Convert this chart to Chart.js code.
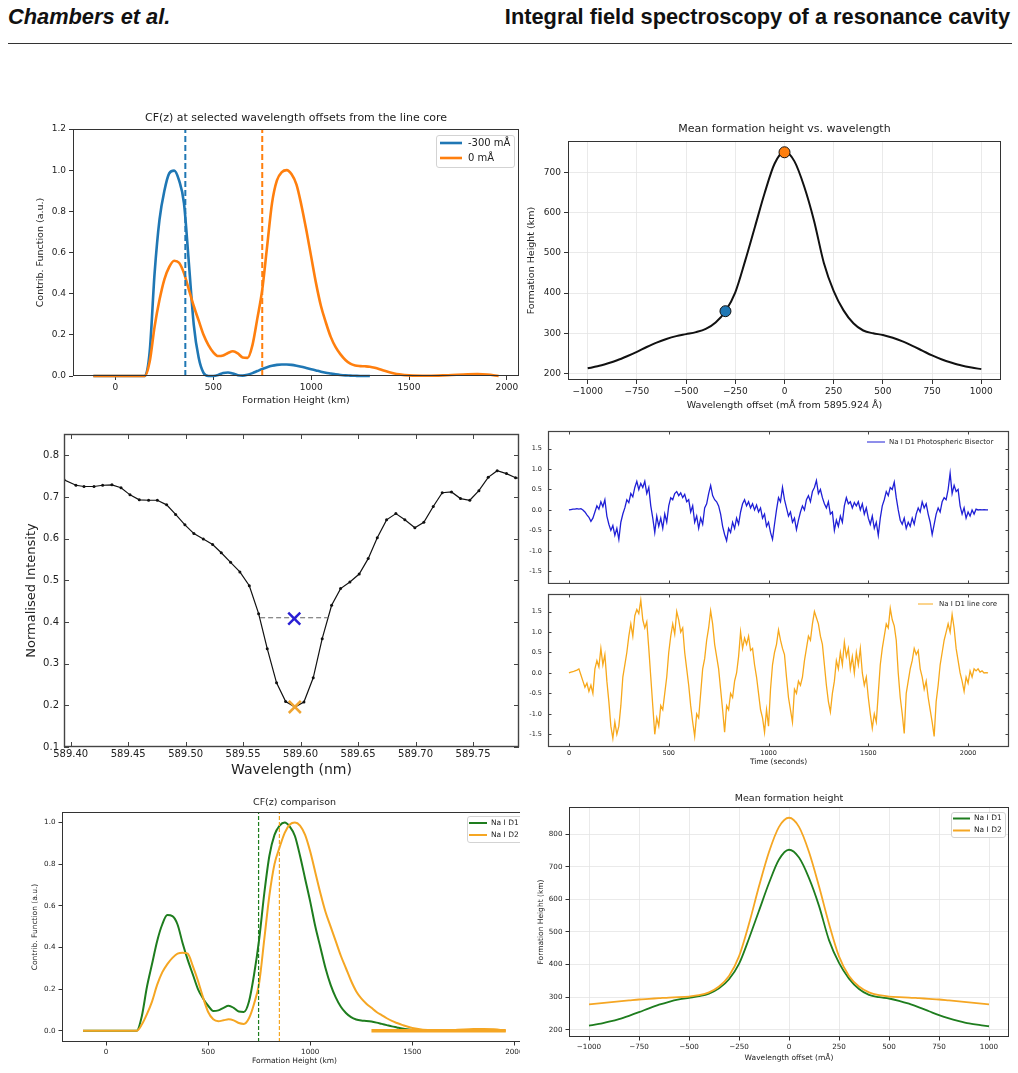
<!DOCTYPE html>
<html>
<head>
<meta charset="utf-8">
<title>Integral field spectroscopy of a resonance cavity</title>
<script src="https://cdn.jsdelivr.net/npm/chart.js@4.4.1/dist/chart.umd.min.js"></script>
<style>
  body { margin: 0; background: #fff; }
  #page { position: relative; width: 1018px; height: 1073px; overflow: hidden; background: #fff; }
  .hdr { position: absolute; top: 5px; line-height: 24px; font-family: "Liberation Sans", Arial, sans-serif; font-weight: bold; font-size: 21.8px; color: #111; white-space: nowrap; }
  #hdrLeft { left: 8px; font-style: italic; }
  #hdrRight { right: 8px; }
  #rule { position: absolute; left: 8px; width: 1004px; top: 43px; height: 1px; background: #333; }
  .panel { position: absolute; overflow: hidden; }
  .panel canvas { display: block; }
</style>
</head>
<body>
<div id="page">
  <div class="hdr" id="hdrLeft">Chambers et al.</div>
  <div class="hdr" id="hdrRight">Integral field spectroscopy of a resonance cavity</div>
  <div id="rule"></div>
  <div class="panel" id="cfPanel"><canvas></canvas></div>
  <div class="panel" id="meanPanel"><canvas></canvas></div>
  <div class="panel" id="specPanel"><canvas></canvas></div>
  <div class="panel" id="bisectorPanel"><canvas></canvas></div>
  <div class="panel" id="corePanel"><canvas></canvas></div>
  <div class="panel" id="cfCompPanel"><canvas></canvas></div>
  <div class="panel" id="meanCompPanel"><canvas></canvas></div>
</div>
<script>
// ---------- data ----------

// CF(z) height grid (km)
const cfHeight = [-113, 0, 100,
  150, 175, 200, 225, 250, 275, 300, 325, 350, 375,
  400, 425, 450, 475, 500, 525, 550, 575, 600, 625,
  650, 675, 700, 725, 750, 775, 800, 825, 850, 875,
  900, 925, 950, 975, 1000, 1025, 1050, 1075, 1100, 1125,
  1150, 1175, 1200, 1225, 1250, 1275, 1300, 1325, 1350, 1375,
  1400, 1425, 1450,
  1500, 1600, 1700, 1800, 1850, 1900, 1958];

// CF at -300 mA (blue)
const cfWing = [0, 0, 0,
  0, 0.12, 0.5, 0.76, 0.9, 0.985, 0.998, 0.95, 0.84, 0.55,
  0.25, 0.09, 0.015, 0, 0, 0.005, 0.015, 0.017, 0.012, 0.004,
  0.002, 0.006, 0.014, 0.024, 0.034, 0.043, 0.05, 0.054, 0.056, 0.056,
  0.054, 0.05, 0.045, 0.039, 0.033, 0.027, 0.021, 0.016, 0.012, 0.008,
  0.005, 0.003, 0.002, 0.001, 0, 0, 0, null, null, null,
  null, null, null,
  null, null, null, null, null, null, null];

// CF at 0 mA (orange)
const cfCore = [0, 0, 0,
  0, 0.07, 0.24, 0.37, 0.47, 0.53, 0.56, 0.55, 0.5, 0.42,
  0.34, 0.27, 0.2, 0.15, 0.115, 0.097, 0.1, 0.112, 0.12, 0.11,
  0.09, 0.088, 0.15, 0.28, 0.42, 0.63, 0.84, 0.95, 0.99, 1.0,
  0.98, 0.93, 0.83, 0.71, 0.58, 0.45, 0.34, 0.26, 0.19, 0.14,
  0.105, 0.078, 0.06, 0.051, 0.048, 0.047, 0.045, 0.04, 0.033, 0.025,
  0.018, 0.012, 0.008,
  0.003, 0.001, 0.004, 0.008, 0.009, 0.007, 0];

// CF comparison: Na I D1 and D2
const cfD1 = [0, 0, 0,
  0, 0.07, 0.21, 0.32, 0.43, 0.51, 0.555, 0.55, 0.51, 0.42,
  0.34, 0.27, 0.2, 0.155, 0.12, 0.095, 0.098, 0.11, 0.12, 0.11,
  0.092, 0.09, 0.14, 0.27, 0.44, 0.66, 0.84, 0.94, 0.985, 1.0,
  0.98, 0.935, 0.84, 0.73, 0.62, 0.5, 0.4, 0.3, 0.22, 0.16,
  0.115, 0.085, 0.065, 0.054, 0.049, 0.047, 0.044, 0.039, 0.033, 0.027,
  0.021, 0.016, 0.011,
  0.003, null, null, null, null, null, null];

const cfD2 = [0, 0, 0,
  0, 0.03, 0.08, 0.14, 0.22, 0.28, 0.32, 0.35, 0.37, 0.375,
  0.37, 0.31, 0.24, 0.16, 0.09, 0.055, 0.046, 0.05, 0.055, 0.05,
  0.037, 0.033, 0.06, 0.13, 0.23, 0.44, 0.65, 0.8, 0.88, 0.95,
  0.99, 1.0, 0.985, 0.94, 0.86, 0.76, 0.66, 0.57, 0.5, 0.43,
  0.36, 0.3, 0.24, 0.19, 0.155, 0.13, 0.11, 0.09, 0.075, 0.06,
  0.047, 0.037, 0.028,
  0.013, 0.002, 0.003, 0.008, 0.009, 0.007, 0];

const cfTailHeight = [1300, 1958];
const cfTailValue = [0, 0];

// mean formation heights (dashed lines, km)
const meanWing = 357, meanCore = 750;
const meanD1 = 747, meanD2 = 849;

// mean formation height vs wavelength offset
const offsetMa = [-1000, -950, -900, -850, -800, -750, -700, -650, -600, -550,
  -500, -450, -400, -350, -300, -250, -200, -150, -100, -50,
  0, 50, 100, 150, 200, 250, 300, 350, 400, 450,
  500, 550, 600, 650, 700, 750, 800, 850, 900, 950, 1000];
const heightD1 = [213, 218, 225, 233, 243, 254, 266, 277, 286, 293,
  298, 303, 311, 327, 355, 402, 480, 565, 650, 722,
  752, 728, 665, 580, 475, 405, 357, 325, 307, 300,
  296, 289, 280, 269, 257, 245, 235, 227, 220, 215, 211];
const heightD2 = [278, 281, 284, 287, 290, 293, 295, 297, 299, 300,
  302, 306, 315, 333, 365, 425, 525, 640, 745, 822,
  850, 822, 745, 640, 525, 425, 365, 333, 315, 306,
  302, 300, 299, 297, 295, 293, 290, 287, 284, 281, 278];
const markOffset = [-300, 0];
const markHeight = [355, 750];

// Na I D1 spectral profile
const specWave = [589.3942, 589.4046, 589.4116, 589.4203, 589.4278, 589.4359, 589.4438, 589.4516, 589.4597, 589.4678,
  589.4754, 589.4835, 589.4913, 589.4994, 589.5072, 589.5154, 589.5235, 589.5310, 589.5391, 589.5472,
  589.5554, 589.5635, 589.5710, 589.5791, 589.5870, 589.5951, 589.6029, 589.6110, 589.6188, 589.6270,
  589.6348, 589.6429, 589.6510, 589.6588, 589.6667, 589.6748, 589.6829, 589.6907, 589.6994, 589.7072,
  589.7154, 589.7232, 589.7313, 589.7391, 589.7472, 589.7551, 589.7632, 589.7710, 589.7791, 589.7870, 589.7950];
const specInt = [0.741, 0.728, 0.725, 0.725, 0.728, 0.729, 0.722, 0.705, 0.693, 0.692,
  0.692, 0.681, 0.658, 0.633, 0.612, 0.599, 0.586, 0.566, 0.543, 0.520,
  0.487, 0.420, 0.336, 0.254, 0.209, 0.196, 0.208, 0.266, 0.360, 0.440,
  0.480, 0.496, 0.515, 0.552, 0.602, 0.645, 0.660, 0.645, 0.626, 0.639,
  0.677, 0.710, 0.712, 0.696, 0.692, 0.715, 0.747, 0.763, 0.756, 0.746, 0.744];
const bisectorLevelWave = [589.5648, 589.6250];
const bisectorLevelInt = [0.41, 0.41];
const bisectorMark = {x: 589.5945, y: 0.408};
const coreMark = {x: 589.5950, y: 0.196};

// time series (10 s cadence, starting at 0 s)
const cadence = 10;
const bisectorShift = [
  0, 0.01, 0.02, 0.02, 0.03, 0.02, 0.03, 0.0, -0.05, -0.12,
  -0.18, -0.28, -0.2, -0.05, 0.1, 0.02, 0.2, 0.08, 0.25, -0.15,
  -0.35, -0.5, -0.38, -0.62, -0.45, -0.72, -0.3, -0.1, 0.05, 0.25,
  0.18, 0.4, 0.32, 0.55, 0.7, 0.5, 0.65, 0.55, 0.7, 0.4,
  0.55, 0.1, -0.2, -0.55, -0.15, -0.4, -0.2, -0.45, -0.1, -0.3,
  0.1, 0.3, 0.25, 0.4, 0.45, 0.35, 0.42, 0.3, 0.38, 0.2,
  0.25, -0.05, 0.1, -0.3, -0.15, -0.45, -0.2, -0.35, 0.05, 0.15,
  0.4, 0.6, 0.35, 0.25, 0.2, 0.1, -0.1, -0.4, -0.6, -0.75,
  -0.45, -0.55, -0.3, -0.45, -0.2, -0.35, -0.05, 0.15, 0.25, 0.1,
  0.2, 0.05, 0.15, 0.0, 0.12, -0.05, 0.05, -0.2, -0.1, -0.4,
  -0.3, -0.55, -0.72, -0.35, 0.0, 0.3, 0.2, 0.55, 0.25, 0.05,
  -0.15, -0.05, -0.3, -0.2, -0.48, -0.25, -0.05, 0.1, 0.0, 0.25,
  0.35, 0.2, 0.45, 0.55, 0.72, 0.4, 0.5, 0.3, 0.15, 0.05,
  0.2, -0.1, -0.05, -0.5, -0.25, -0.4, -0.15, -0.3, 0.1, 0.3,
  0.15, 0.2, 0.05, 0.18, 0.1, 0.2, 0.0, 0.15, -0.1, 0.05,
  -0.2, -0.35, -0.15, -0.45, -0.3, -0.62, -0.2, 0.1, 0.25, 0.45,
  0.35, 0.55, 0.5, 0.68, 0.3, 0.0, -0.25, -0.35, -0.2, -0.45,
  -0.3, -0.4, -0.2, -0.35, -0.1, 0.05, -0.05, 0.2, 0.05, 0.15,
  -0.1, -0.3, -0.6, -0.35, -0.1, 0.05, -0.05, 0.2, 0.3, 0.25,
  0.5, 0.9, 0.4, 0.6, 0.45, 0.5, 0.1, -0.1, 0.05, -0.2,
  -0.05, -0.15, 0.0, -0.1, 0.02, 0.0, 0.01, 0.0, 0.01, 0.0,
  0.0];
const coreShift = [
  0, 0.02, 0.03, 0.05, 0.07, 0.1, -0.05, -0.2, -0.35, -0.25,
  -0.45, -0.3, -0.5, 0.1, 0.3, 0.15, 0.6, 0.2, 0.45, -0.2,
  -0.7, -1.3, -1.6, -1.2, -1.5, -1.3, -0.8, -0.1, 0.2, 0.5,
  0.9, 1.2, 0.9, 1.4, 1.55, 1.45, 1.78, 1.3, 1.1, 1.25,
  0.6, -0.1, -0.8, -1.5, -1.1, -1.3, -0.8, -0.9, -0.5, -0.1,
  0.5, 0.9, 1.2, 0.95, 1.5, 1.3, 1.0, 1.1, 0.5, 0.1,
  -0.3, -0.8, -1.2, -1.55, -1.0, -1.1, -0.5, 0.1, 0.35, 0.8,
  1.1, 1.52, 1.2, 0.7, 0.4, 0.1, -0.4, -0.9, -1.45, -0.8,
  -0.9, -0.5, -0.6, -0.2, 0.0, 0.4, 1.0, 0.6, 0.85, 0.7,
  0.9, 0.55, 0.6, 0.2, -0.1, -0.5, -0.9, -1.1, -1.45, -0.9,
  -1.3, -0.4, 0.2, 0.5, 0.7, 1.05, 0.8, 0.6, 0.45, -0.1,
  -0.6, -0.9, -1.2, -0.4, -0.5, -0.2, -0.3, -0.1, 0.3, 0.6,
  0.9, 0.8, 1.2, 1.5, 1.35, 1.2, 0.9, 0.7, 0.2, -0.3,
  -0.7, -0.95, -0.5, -0.2, 0.3, 0.1, 0.5, 0.2, 0.75, 0.4,
  0.6, 0.1, 0.4, 0.0, 0.5, 0.2, 0.6, 0.0, -0.3, -0.1,
  -0.6, -1.0, -1.35, -1.0, -1.2, -0.5, 0.2, 0.6, 0.9, 1.2,
  1.1, 1.58, 1.3, 1.15, 0.8, 0.0, -0.6, -1.0, -1.48, -0.5,
  -0.2, 0.1, 0.3, 0.6, 0.45, 0.55, 0.1, -0.1, -0.4, -0.2,
  -0.6, -0.9, -1.2, -1.55, -0.7, -0.3, 0.2, 0.5, 0.8, 1.0,
  1.2, 1.0, 1.43, 1.1, 0.6, 0.3, 0.0, -0.2, -0.45, -0.1,
  -0.25, 0.05, -0.1, 0.1, 0.05, 0.1, 0.02, 0.05, 0.0, 0.01,
  0.0];

// tick values
const cfHeightTicks = [0, 500, 1000, 1500, 2000];
const cfTicks = [0, 0.2, 0.4, 0.6, 0.8, 1.0, 1.2];
const cfCompTicks = [0, 0.2, 0.4, 0.6, 0.8, 1.0];
const offsetTicks = [-1000, -750, -500, -250, 0, 250, 500, 750, 1000];
const heightTicks = [200, 300, 400, 500, 600, 700];
const heightCompTicks = [200, 300, 400, 500, 600, 700, 800];
const waveTicks = [589.40, 589.45, 589.50, 589.55, 589.60, 589.65, 589.70, 589.75];
const intensityTicks = [0.1, 0.2, 0.3, 0.4, 0.5, 0.6, 0.7, 0.8];
const timeTicks = [0, 500, 1000, 1500, 2000];
const shiftTicks = [-1.5, -1.0, -0.5, 0.0, 0.5, 1.0, 1.5];

// ---------- helpers ----------
const INK = '#222';
const TAB_BLUE = '#1f77b4', TAB_ORANGE = '#ff7f0e';
const GREEN = '#1e7d1e', GOLD = '#f5a623';
const FONT = '"DejaVu Sans", sans-serif';

Chart.defaults.font.family = FONT;
Chart.defaults.color = INK;

function pts(xs, ys) {
  return xs.map((x, i) => ({x, y: ys[i]}));
}

function timePts(ys) {
  return ys.map((v, i) => ({x: i * cadence, y: v}));
}

const fixed = n => v => v.toFixed(n);
const minusFmt = v => (v < 0 ? '\u2212' + Math.abs(v) : String(v));

function lineSet(data, color, width, extra) {
  return Object.assign({
    data, borderColor: color, backgroundColor: color, borderWidth: width,
    pointRadius: 0, fill: false, tension: 0, clip: 4, spanGaps: false
  }, extra || {});
}

function axisOptions(a, horizontal, size, edge) {
  const tfs = a.titleSize || 10;
  const lh = tfs * 1.2;
  let tpad = 0;
  if (a.title) tpad = horizontal ? edge - a.titleAt - lh / 2 : a.titleAt - edge - lh / 2;
  return {
    type: 'linear', min: a.min, max: a.max,
    afterBuildTicks: s => { s.ticks = a.ticks.map(v => ({value: v})); },
    afterFit: s => {
      // fixed axis size, and no extra room reserved for edge labels
      if (horizontal) s.height = size; else s.width = size;
      s.paddingTop = 0; s.paddingBottom = 0; s.paddingLeft = 0; s.paddingRight = 0;
    },
    ticks: {
      display: a.labels !== false, autoSkip: false, maxRotation: 0, minRotation: 0,
      padding: a.pad, font: {size: a.size}, color: INK, callback: a.fmt
    },
    grid: {
      drawOnChartArea: !!a.grid, color: '#e4e4e4', lineWidth: 0.8,
      drawTicks: !!a.tickLen, tickLength: a.tickLen || 0, tickColor: '#333', tickWidth: 1
    },
    border: {display: false},
    title: {display: !!a.title, text: a.title || '', font: {size: tfs}, color: INK, padding: Math.max(0, tpad)}
  };
}

function drawLegend(ctx, L, ox, oy) {
  const x0 = L.x - ox, y0 = L.y - oy;
  if (L.box) {
    ctx.beginPath();
    ctx.roundRect(x0 + 0.5, y0 + 0.5, L.w, L.h, 2.5);
    ctx.fillStyle = 'rgba(255,255,255,0.85)';
    ctx.fill();
    ctx.strokeStyle = '#d3d3d3';
    ctx.lineWidth = 1;
    ctx.stroke();
  }
  ctx.font = L.size + 'px ' + FONT;
  ctx.textAlign = 'left';
  ctx.textBaseline = 'middle';
  L.items.forEach((item, i) => {
    const cy = y0 + L.row0 + i * L.rowH;
    ctx.strokeStyle = item.color;
    ctx.lineWidth = item.width;
    ctx.beginPath();
    ctx.moveTo(x0 + L.lineX, cy);
    ctx.lineTo(x0 + L.lineX + L.lineLen, cy);
    ctx.stroke();
    ctx.fillStyle = INK;
    ctx.fillText(item.label, x0 + L.textX, cy);
  });
}

// frame, inward ticks, title and legend on top of the chart
function decorPlugin(p, ox, oy) {
  return {
    id: 'decor',
    afterDraw(chart) {
      const ctx = chart.ctx, a = chart.chartArea;
      ctx.save();
      if (p.inTicks) {
        const it = p.inTicks, sx = chart.scales.x, sy = chart.scales.y;
        ctx.strokeStyle = it.color;
        ctx.lineWidth = 1;
        ctx.beginPath();
        it.x.forEach(v => {
          const px = Math.round(sx.getPixelForValue(v)) + 0.5;
          ctx.moveTo(px, a.bottom); ctx.lineTo(px, a.bottom - it.len);
          ctx.moveTo(px, a.top); ctx.lineTo(px, a.top + it.len);
        });
        it.y.forEach(v => {
          const py = Math.round(sy.getPixelForValue(v)) + 0.5;
          ctx.moveTo(a.left, py); ctx.lineTo(a.left + it.len, py);
          ctx.moveTo(a.right, py); ctx.lineTo(a.right - it.len, py);
        });
        ctx.stroke();
      }
      ctx.strokeStyle = p.frameColor || '#333';
      ctx.lineWidth = p.frameWidth || 1;
      ctx.strokeRect(a.left + 0.5, a.top + 0.5, a.right - a.left - 1, a.bottom - a.top - 1);
      if (p.title) {
        ctx.fillStyle = INK;
        ctx.font = p.title.size + 'px ' + FONT;
        ctx.textAlign = 'center';
        ctx.textBaseline = 'middle';
        ctx.fillText(p.title.text, (a.left + a.right) / 2, p.title.at - oy);
      }
      if (p.legend) drawLegend(ctx, p.legend, ox, oy);
      ctx.restore();
    }
  };
}

// place a panel so that its plot area lands on page rect p.area
function makePanel(p) {
  const wrap = document.getElementById(p.id);
  const canvas = wrap.querySelector('canvas');
  const left = p.area.l - p.axW, top = p.area.t - p.padTop;
  const w = p.area.r - p.area.l + p.axW + p.padRight;
  const h = p.area.b - p.area.t + p.padTop + p.axH;
  wrap.style.left = left + 'px';
  wrap.style.top = top + 'px';
  wrap.style.width = (p.clipRight ? p.clipRight - left : w) + 'px';
  wrap.style.height = h + 'px';
  canvas.width = w;
  canvas.height = h;
  canvas.style.width = w + 'px';
  canvas.style.height = h + 'px';

  return new Chart(canvas, {
    type: 'line',
    data: {datasets: p.datasets},
    options: {
      responsive: false,
      animation: false,
      events: [],
      layout: {autoPadding: false, padding: {top: p.padTop, right: p.padRight, left: 0, bottom: 0}},
      plugins: {legend: {display: false}, title: {display: false}, tooltip: {enabled: false}},
      scales: {
        x: axisOptions(p.x, true, p.axH, top + h),
        y: axisOptions(p.y, false, p.axW, left)
      }
    },
    plugins: [decorPlugin(p, left, top)]
  });
}

// ---------- panels ----------

// CF(z) at selected wavelength offsets
makePanel({
  id: 'cfPanel', area: {l: 73, t: 129, r: 519, b: 376}, axW: 55, axH: 35, padTop: 22, padRight: 3,
  title: {text: 'CF(z) at selected wavelength offsets from the line core', size: 11, at: 118},
  x: {min: -217, max: 2062, ticks: cfHeightTicks, fmt: v => String(v), size: 9, pad: 2, tickLen: 4,
      title: 'Formation Height (km)', titleSize: 9.5, titleAt: 401},
  y: {min: 0, max: 1.2, ticks: cfTicks, fmt: fixed(1), size: 9, pad: 3, tickLen: 4,
      title: 'Contrib. Function (a.u.)', titleSize: 9.5, titleAt: 41},
  legend: {x: 436, y: 135, w: 78, h: 32, box: true, size: 10, row0: 8, rowH: 15, lineX: 4, lineLen: 22, textX: 32,
           items: [{label: '-300 mÅ', color: TAB_BLUE, width: 2.6}, {label: '0 mÅ', color: TAB_ORANGE, width: 2.6}]},
  datasets: [
    lineSet(pts([meanWing, meanWing], [0, 1.2]), TAB_BLUE, 2, {borderDash: [6, 3]}),
    lineSet(pts([meanCore, meanCore], [0, 1.2]), TAB_ORANGE, 2, {borderDash: [6, 3]}),
    lineSet(pts(cfHeight, cfCore), TAB_ORANGE, 2.6, {cubicInterpolationMode: 'monotone'}),
    lineSet(pts(cfHeight, cfWing), TAB_BLUE, 2.6, {cubicInterpolationMode: 'monotone'})
  ]
});

// Mean formation height vs wavelength
makePanel({
  id: 'meanPanel', area: {l: 568, t: 141, r: 1001, b: 380}, axW: 50, axH: 34, padTop: 22, padRight: 5,
  title: {text: 'Mean formation height vs. wavelength', size: 11, at: 129},
  x: {min: -1100, max: 1100, ticks: offsetTicks, fmt: minusFmt, size: 9, pad: 2, tickLen: 4, grid: true,
      title: 'Wavelength offset (mÅ from 5895.924 Å)', titleSize: 9.5, titleAt: 406},
  y: {min: 184, max: 778, ticks: heightTicks, fmt: v => String(v), size: 9, pad: 3, tickLen: 4, grid: true,
      title: 'Formation Height (km)', titleSize: 9.5, titleAt: 532},
  datasets: [
    lineSet(pts(markOffset, markHeight), '#000', 1, {
      showLine: false, pointRadius: 5.5, pointBorderWidth: 1, pointBorderColor: '#111',
      pointBackgroundColor: [TAB_BLUE, TAB_ORANGE], clip: 8
    }),
    lineSet(pts(offsetMa, heightD1), '#111', 2, {cubicInterpolationMode: 'monotone'})
  ]
});

// Na I D1 profile
makePanel({
  id: 'specPanel', area: {l: 64, t: 434, r: 519, b: 747}, axW: 45, axH: 33, padTop: 5, padRight: 1,
  frameColor: '#444', frameWidth: 1.4,
  inTicks: {x: waveTicks, y: intensityTicks, len: 5, color: '#444'},
  x: {min: 589.3942, max: 589.790, ticks: waveTicks, fmt: fixed(2), size: 10, pad: 1,
      title: 'Wavelength (nm)', titleSize: 14, titleAt: 770},
  y: {min: 0.1, max: 0.851, ticks: intensityTicks, fmt: fixed(1), size: 10, pad: 5,
      title: 'Normalised Intensity', titleSize: 13, titleAt: 32},
  datasets: [
    lineSet([bisectorMark], '#2a1fd4', 2.5, {showLine: false, pointStyle: 'crossRot', pointRadius: 8.5, pointBorderWidth: 2.5, clip: 10}),
    lineSet([coreMark], '#f0a531', 2.5, {showLine: false, pointStyle: 'crossRot', pointRadius: 8.5, pointBorderWidth: 2.5, clip: 10}),
    lineSet(pts(bisectorLevelWave, bisectorLevelInt), '#666', 1.1, {borderDash: [5, 3]}),
    lineSet(pts(specWave, specInt), '#111', 1.2, {pointRadius: 1.5, pointBorderWidth: 0, pointBackgroundColor: '#111', clip: 0})
  ]
});

// photospheric bisector time series
makePanel({
  id: 'bisectorPanel', area: {l: 548, t: 431, r: 1009, b: 584}, axW: 40, axH: 0, padTop: 2, padRight: 5,
  frameColor: '#444', frameWidth: 1.2,
  inTicks: {x: timeTicks, y: shiftTicks, len: 3.5, color: '#444'},
  x: {min: -105, max: 2205, ticks: timeTicks, labels: false, size: 6.5, pad: 0},
  y: {min: -1.81, max: 1.93, ticks: shiftTicks, fmt: fixed(1), size: 6.5, pad: 6},
  legend: {x: 867, y: 436, box: false, size: 7, row0: 6, rowH: 10, lineX: 0, lineLen: 18, textX: 22,
           items: [{label: 'Na I D1 Photospheric Bisector', color: '#1f1fd6', width: 1}]},
  datasets: [lineSet(timePts(bisectorShift), '#1f1fd6', 1.3)]
});

// line core time series
makePanel({
  id: 'corePanel', area: {l: 548, t: 594, r: 1009, b: 747}, axW: 40, axH: 22, padTop: 2, padRight: 5,
  frameColor: '#444', frameWidth: 1.2,
  inTicks: {x: timeTicks, y: shiftTicks, len: 3.5, color: '#444'},
  x: {min: -105, max: 2205, ticks: timeTicks, fmt: v => String(v), size: 6.5, pad: 2,
      title: 'Time (seconds)', titleSize: 7.5, titleAt: 762},
  y: {min: -1.81, max: 1.93, ticks: shiftTicks, fmt: fixed(1), size: 6.5, pad: 6},
  legend: {x: 918, y: 598, box: false, size: 7, row0: 6, rowH: 10, lineX: 0, lineLen: 15, textX: 21,
           items: [{label: 'Na I D1 line core', color: '#f7a81b', width: 1}]},
  datasets: [lineSet(timePts(coreShift), '#f7a81b', 1.3)]
});

// CF(z) comparison D1 / D2
makePanel({
  id: 'cfCompPanel', area: {l: 62, t: 812, r: 527, b: 1042}, axW: 45, axH: 28, padTop: 16, padRight: 5, clipRight: 520,
  title: {text: 'CF(z) comparison', size: 9.5, at: 803},
  x: {min: -216, max: 2062, ticks: cfHeightTicks, fmt: v => String(v), size: 7.2, pad: 2, tickLen: 3.5,
      title: 'Formation Height (km)', titleSize: 7.5, titleAt: 1061},
  y: {min: -0.054, max: 1.05, ticks: cfCompTicks, fmt: fixed(1), size: 7.2, pad: 3, tickLen: 3.5,
      title: 'Contrib. Function (a.u.)', titleSize: 7.5, titleAt: 35},
  legend: {x: 467, y: 816, w: 60, h: 26, box: true, size: 7.5, row0: 7, rowH: 12, lineX: 2, lineLen: 18, textX: 24,
           items: [{label: 'Na I D1', color: GREEN, width: 2}, {label: 'Na I D2', color: GOLD, width: 2}]},
  datasets: [
    lineSet(pts([meanD1, meanD1], [-0.054, 1.05]), GREEN, 1.2, {borderDash: [4, 2]}),
    lineSet(pts([meanD2, meanD2], [-0.054, 1.05]), GOLD, 1.2, {borderDash: [4, 2]}),
    lineSet(pts(cfTailHeight, cfTailValue), GOLD, 3.5),
    lineSet(pts(cfHeight, cfD2), GOLD, 2, {cubicInterpolationMode: 'monotone'}),
    lineSet(pts(cfHeight, cfD1), GREEN, 2, {cubicInterpolationMode: 'monotone'})
  ]
});

// mean formation height comparison
makePanel({
  id: 'meanCompPanel', area: {l: 569, t: 807, r: 1009, b: 1037}, axW: 40, axH: 30, padTop: 16, padRight: 5,
  title: {text: 'Mean formation height', size: 9.5, at: 799},
  x: {min: -1100, max: 1100, ticks: offsetTicks, fmt: minusFmt, size: 7.2, pad: 2, tickLen: 3.5, grid: true,
      title: 'Wavelength offset (mÅ)', titleSize: 7.5, titleAt: 1058},
  y: {min: 178, max: 883, ticks: heightCompTicks, fmt: v => String(v), size: 7.2, pad: 3, tickLen: 3.5, grid: true,
      title: 'Formation Height (km)', titleSize: 7.5, titleAt: 541},
  legend: {x: 951, y: 812, w: 54, h: 25, box: true, size: 7.5, row0: 6.5, rowH: 12, lineX: 2, lineLen: 17, textX: 23,
           items: [{label: 'Na I D1', color: GREEN, width: 2}, {label: 'Na I D2', color: GOLD, width: 2}]},
  datasets: [
    lineSet(pts(offsetMa, heightD2), GOLD, 1.8, {cubicInterpolationMode: 'monotone'}),
    lineSet(pts(offsetMa, heightD1), GREEN, 1.8, {cubicInterpolationMode: 'monotone'})
  ]
});
</script>
</body>
</html>
